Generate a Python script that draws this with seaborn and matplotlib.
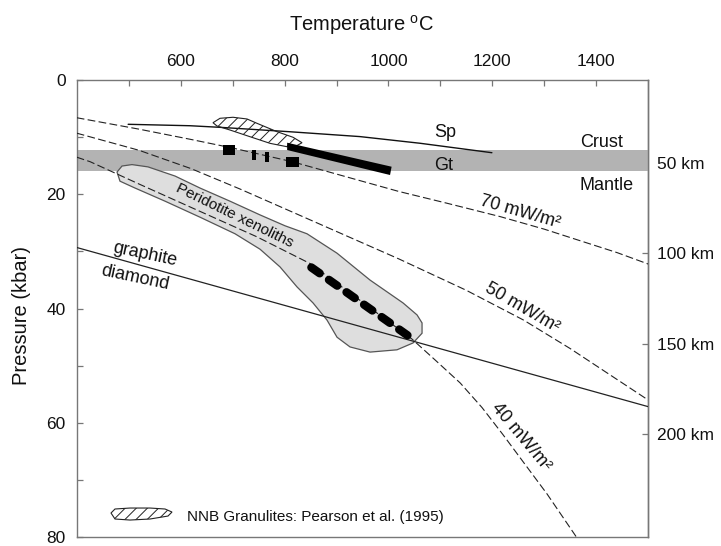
import matplotlib
matplotlib.use("Agg")
import matplotlib.pyplot as plt
import seaborn as sns
import numpy as np

# ---------------- data (T in degC, P in kbar) ----------------
temp_major = [600, 800, 1000, 1200, 1400]
temp_minor = [500, 700, 900, 1100, 1300]
pres_major = [0, 20, 40, 60, 80]
pres_minor = [10, 30, 50, 70]
depth_ticks = [50, 100, 150, 200]
km_per_kbar = 3.157
kbar_offset = 1.37

geo70_T = [400, 520, 620, 700, 815, 945, 1020, 1110, 1215, 1300, 1375, 1440, 1500]
geo70_P = [6.6, 8.6, 10.4, 11.9, 14.3, 17.6, 19.5, 21.5, 23.9, 26.1, 28.3, 30.2, 32.2]

geo50_T = [400, 520, 620, 715, 850, 1020, 1150, 1260, 1350, 1430, 1500]
geo50_P = [9.3, 12.3, 15.5, 19.1, 24.5, 31.3, 36.8, 42.0, 47.0, 51.8, 56.0]

geo40_T = [400, 426, 520, 618, 746, 849, 946, 1045, 1090, 1138, 1180, 1220, 1260, 1305, 1362]
geo40_P = [13.5, 14.3, 18.2, 22.2, 27.4, 32.1, 38.6, 45.3, 49.0, 53.0, 57.3, 62.0, 66.9, 72.4, 80.0]

gd_T = [400, 1500]
gd_P = [29.3, 57.15]

sp_T = [499, 618, 676, 810, 945, 1061, 1199]
sp_P = [7.75, 8.0, 8.28, 9.05, 9.9, 11.07, 12.72]

band_P = [12.25, 15.87]

field_T = [477.6, 487.2, 506.4, 537.2, 589.2, 637.3, 695.0, 752.8, 800.8, 843.2, 901.0,
           964.5, 1028.0, 1055.0, 1064.6, 1064.6, 1047.3, 1016.4, 964.5, 926.0, 901.0,
           881.7, 854.8, 824.0, 791.3, 752.8, 704.7, 637.3, 570.0, 512.2, 483.3]
field_P = [16.1, 15.05, 14.8, 15.2, 16.8, 18.9, 21.2, 23.6, 25.5, 26.9, 30.3,
           35.0, 39.0, 41.1, 42.5, 44.3, 46.0, 47.2, 47.6, 46.7, 45.0,
           42.0, 39.0, 36.2, 32.7, 29.6, 26.9, 24.0, 21.2, 18.9, 17.7]

gran_T = [662.3, 675.8, 700.8, 727.8, 747.0, 785.5, 816.3, 833.6, 824.0, 804.7, 772.0, 733.5, 695.0, 670.0]
gran_P = [7.47, 6.70, 6.52, 6.82, 7.58, 9.04, 10.02, 10.97, 11.46, 11.67, 11.08, 9.92, 8.75, 8.05]

box_T_lo = [682, 737, 762, 803]
box_T_hi = [705, 745, 770, 827]
box_P_lo = [11.4, 12.25, 12.65, 13.5]
box_P_hi = [13.1, 14.0, 14.4, 15.2]

bar_T = [805, 1006, 1003, 805]
bar_P = [10.97, 15.17, 16.62, 12.25]

xeno_T = [851.6, 1038.2]
xeno_P = [32.79, 44.77]

leg_T = [466.0, 473.7, 502.6, 541.1, 570.0, 583.4, 575.7, 541.1, 502.6, 473.7]
leg_P = [75.75, 75.05, 74.88, 74.88, 75.05, 75.58, 76.28, 76.80, 76.98, 76.80]

# ---------------- style ----------------
sns.set_theme(style="white")
plt.rcParams["font.family"] = ["Liberation Sans", "DejaVu Sans"]
plt.rcParams["mathtext.fontset"] = "custom"
plt.rcParams["mathtext.rm"] = "Liberation Sans"
plt.rcParams["mathtext.it"] = "Liberation Sans:italic"
plt.rcParams["hatch.linewidth"] = 0.7

spine_col = "#777777"
fig = plt.figure(figsize=(7.21, 5.46), dpi=100)
ax = fig.add_axes([0.10638, 0.01593, 0.79279, 0.83755])

ax.axhspan(band_P[0], band_P[1], color="#b3b3b3", lw=0, zorder=1)
ax.fill(field_T, field_P, facecolor="#dedede", edgecolor="#555555", lw=0.9, zorder=2)

dash = (0, (7, 3))
for T, P in [(geo70_T, geo70_P), (geo50_T, geo50_P), (geo40_T, geo40_P)]:
    sns.lineplot(x=T, y=P, ax=ax, sort=False, estimator=None, color="#222222",
                 lw=0.8, linestyle=dash, zorder=3)
sns.lineplot(x=gd_T, y=gd_P, ax=ax, sort=False, estimator=None, color="#222222", lw=0.9, zorder=3)
sns.lineplot(x=sp_T, y=sp_P, ax=ax, sort=False, estimator=None, color="#111111", lw=1.0, zorder=3)

ax.fill(gran_T, gran_P, facecolor="none", edgecolor="#222222", hatch="///", lw=0.8, zorder=4)
ax.fill(leg_T, leg_P, facecolor="none", edgecolor="#222222", hatch="///", lw=0.8, zorder=4)

for lo, hi, plo, phi in zip(box_T_lo, box_T_hi, box_P_lo, box_P_hi):
    ax.fill_between([lo, hi], [plo, plo], [phi, phi], color="black", lw=0, zorder=5)
ax.fill(bar_T, bar_P, color="black", lw=0, zorder=5)
ax.plot(xeno_T, xeno_P, color="black", lw=6, linestyle=(0, (1.22, 1.36)),
        dash_capstyle="round", zorder=5)

# ---------------- axes ----------------
ax.set_xlim(400, 1500)
ax.set_ylim(80, 0)
ax.xaxis.tick_top()
ax.xaxis.set_label_position("top")
ax.set_xticks(temp_major)
ax.set_xticks(temp_minor, minor=True)
ax.set_yticks(pres_major)
ax.set_yticks(pres_minor, minor=True)
ax.tick_params(axis="both", which="both", direction="in", length=4.5, width=0.9,
               color=spine_col, labelsize=12.5, labelcolor="#111111")
ax.tick_params(axis="x", which="both", top=True, bottom=False, labeltop=True, labelbottom=False, pad=8)
ax.tick_params(axis="y", which="both", left=True, right=False, pad=8)
for s in ax.spines.values():
    s.set_visible(True)
    s.set_color(spine_col)
    s.set_linewidth(1.0)

ax.set_xlabel("Temperature $^{\\rm o}$C", fontsize=14.5, color="#111111")
ax.xaxis.set_label_coords(0.499, 1.12)
ax.xaxis.label.set_va("center")
ax.set_ylabel("Pressure (kbar)", fontsize=14.5, color="#111111")
ax.yaxis.set_label_coords(-0.0962, 0.486)
ax.yaxis.label.set_va("center")

sec = ax.secondary_yaxis("right",
                         functions=(lambda p: (np.asarray(p) + kbar_offset) * km_per_kbar,
                                    lambda k: np.asarray(k) / km_per_kbar - kbar_offset))
sec.set_yticks(depth_ticks)
sec.set_yticklabels([f"{d} km" for d in depth_ticks])
sec.tick_params(direction="in", length=4.5, width=0.9, color=spine_col, labelsize=12.5,
                labelcolor="#111111", pad=6)
sec.spines["right"].set_color(spine_col)
sec.spines["right"].set_linewidth(1.0)

# ---------------- annotations ----------------
def lab(T, P, s, rot=0, size=13, ha="center"):
    ax.text(T, P, s, ha=ha, va="center", rotation=rot, rotation_mode="anchor",
            fontsize=size, color="#111111", zorder=6)

lab(1108.8, 9.27, "Sp")
lab(1105.6, 14.87, "Gt")
lab(1409.1, 10.85, "Crust")
lab(1420.6, 18.37, "Mantle")
lab(1253.2, 23.04, "70 mW/m\u00b2", rot=-16)
lab(1258.0, 39.9, "50 mW/m\u00b2", rot=-30)
lab(1255.1, 62.4, "40 mW/m\u00b2", rot=-50)
lab(704.7, 23.76, "Peridotite xenoliths", rot=-26, size=11)
lab(531.5, 30.44, "graphite", rot=-12)
lab(512.3, 34.64, "diamond", rot=-12)
lab(611.7, 76.4, "NNB Granulites: Pearson et al. (1995)", size=11, ha="left")

fig.savefig("out.png", dpi=100)
